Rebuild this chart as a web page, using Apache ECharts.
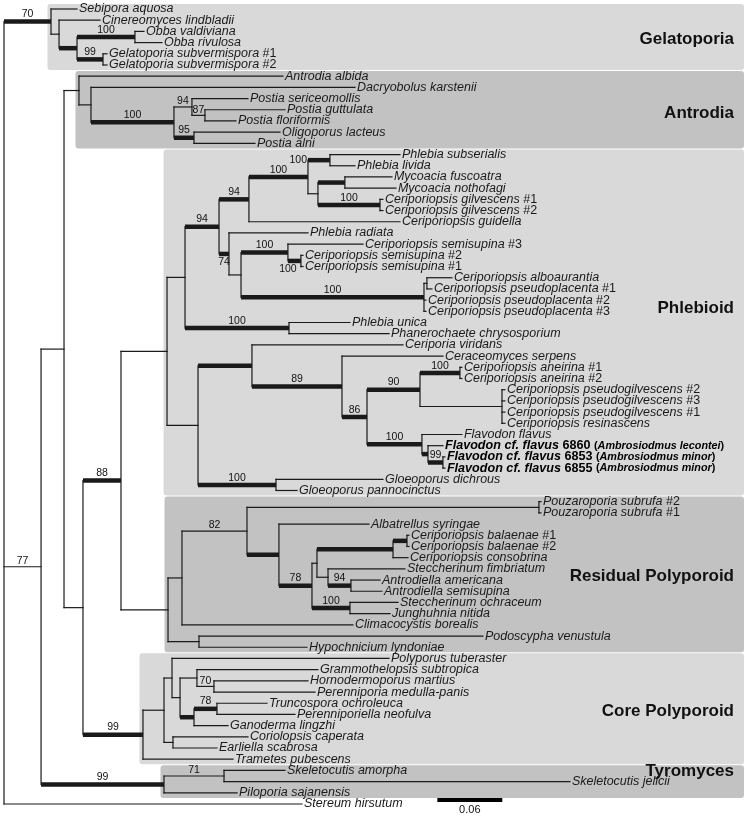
<!DOCTYPE html>
<html><head><meta charset="utf-8">
<script src="https://cdn.jsdelivr.net/npm/echarts@6/dist/echarts.min.js"></script>
<style>html,body{margin:0;padding:0;background:#fff}#c{width:745px;height:816px}</style>
</head><body><div id="c"></div>
<script>
// ---------- DATA ----------
// internal nodes: [id, parent, depth (subst./site from root), support, thick(1/0), support label placement]
const backboneNodes = [
  ['root', null, 0, null, 0, ''],
  ['n77', 'root', 0.0342, 77, 0, 'above'],
  ['upper', 'n77', 0.0554, null, 0, ''],
  ['n83', 'upper', 0.0729, null, 0, ''],
  ['n88', 'n83', 0.1080, 88, 1, 'above']
];
const gelatoporiaNodes = [
  ['gel', 'root', 0.0434, 70, 1, 'above'],
  ['gA', 'gel', 0.0508, null, 0, ''],
  ['gB', 'gA', 0.0674, null, 1, ''],
  ['obba', 'gB', 0.1209, 100, 1, 'above'],
  ['gsub', 'gB', 0.0914, 99, 1, 'above']
];
const antrodiaNodes = [
  ['ant', 'upper', 0.0692, null, 0, ''],
  ['ant2', 'ant', 0.0803, null, 0, ''],
  ['postia', 'ant2', 0.1569, 100, 1, 'above'],
  ['p94', 'postia', 0.1735, 94, 0, 'above'],
  ['p87', 'p94', 0.1855, 87, 0, 'above'],
  ['p95', 'postia', 0.1754, 95, 1, 'above']
];
const phlebioidNodes = [
  ['phleb', 'n88', 0.1505, null, 0, ''],
  ['A', 'phleb', 0.1671, null, 0, ''],
  ['B', 'A', 0.1985, 94, 1, 'above'],
  ['C', 'B', 0.2261, 94, 1, 'above'],
  ['F', 'C', 0.2806, 100, 1, 'above'],
  ['G', 'F', 0.3009, 100, 1, 'left'],
  ['H', 'F', 0.2898, null, 0, ''],
  ['I', 'H', 0.3147, null, 1, ''],
  ['J', 'H', 0.3471, 100, 1, 'above'],
  ['D', 'B', 0.2077, 74, 1, 'below'],
  ['E', 'D', 0.2188, null, 0, ''],
  ['sem', 'E', 0.2621, 100, 1, 'above'],
  ['sem2', 'sem', 0.2741, 100, 1, 'belowLeft'],
  ['albo', 'E', 0.3877, 100, 1, 'above'],
  ['albo1', 'albo', 0.3904, null, 0, ''],
  ['K', 'A', 0.2631, 100, 1, 'above'],
  ['L', 'phleb', 0.1791, null, 0, ''],
  ['M', 'L', 0.2289, null, 1, ''],
  ['O', 'M', 0.3120, 89, 1, 'above'],
  ['P', 'O', 0.3351, 86, 1, 'above'],
  ['Q', 'P', 0.3840, 90, 1, 'above'],
  ['S', 'Q', 0.4209, 100, 1, 'above'],
  ['T', 'Q', 0.4597, null, 0, ''],
  ['R', 'P', 0.3858, 100, 1, 'above'],
  ['U', 'R', 0.3914, null, 1, ''],
  ['V', 'U', 0.4052, 99, 1, 'above'],
  ['Nglo', 'L', 0.2511, 100, 1, 'above']
];
const residualNodes = [
  ['W', 'n88', 0.1514, null, 0, ''],
  ['X', 'W', 0.1643, null, 0, ''],
  ['Z', 'X', 0.2243, 82, 0, 'above'],
  ['pouz', 'Z', 0.4938, null, 0, ''],
  ['AA', 'Z', 0.2538, null, 1, ''],
  ['AB', 'AA', 0.2843, 78, 1, 'above'],
  ['AC', 'AB', 0.2889, null, 0, ''],
  ['AE', 'AC', 0.3591, null, 1, ''],
  ['AG', 'AE', 0.3720, null, 1, ''],
  ['AF', 'AC', 0.2991, null, 0, ''],
  ['AH', 'AF', 0.3203, 94, 1, 'above'],
  ['AD', 'AB', 0.3194, 100, 1, 'above'],
  ['Y', 'W', 0.1800, null, 0, '']
];
const coreNodes = [
  ['core', 'n83', 0.1283, 99, 1, 'above'],
  ['AI', 'core', 0.1477, null, 0, ''],
  ['AJ', 'AI', 0.1551, null, 0, ''],
  ['AL', 'AJ', 0.1625, null, 0, ''],
  ['AM', 'AL', 0.1781, null, 0, ''],
  ['AO', 'AM', 0.1938, 70, 0, 'above'],
  ['AN', 'AL', 0.1754, null, 1, ''],
  ['AP', 'AN', 0.1966, 78, 1, 'above'],
  ['AK', 'AI', 0.1560, null, 0, '']
];
const tyromycesNodes = [
  ['tyro', 'n77', 0.1477, 99, 1, 'above'],
  ['AR', 'tyro', 0.2031, 71, 0, 'above']
];

// leaves (top to bottom): [name, parent node, tip depth]
const gelatoporiaLeaves = [
  ['Sebipora aquosa', 'gel', 0.0674],
  ['Cinereomyces lindbladii', 'gA', 0.0886],
  ['Obba valdiviana', 'obba', 0.1292],
  ['Obba rivulosa', 'obba', 0.1458],
  ['Gelatoporia subvermispora #1', 'gsub', 0.0951],
  ['Gelatoporia subvermispora #2', 'gsub', 0.0951]
];
const antrodiaLeaves = [
  ['Antrodia albida', 'ant', 0.2575],
  ['Dacryobolus karstenii', 'ant2', 0.3240],
  ['Postia sericeomollis', 'p94', 0.2252],
  ['Postia guttulata', 'p87', 0.2594],
  ['Postia floriformis', 'p87', 0.2141],
  ['Oligoporus lacteus', 'p95', 0.2548],
  ['Postia alni', 'p95', 0.2317]
];
const phlebioidLeaves = [
  ['Phlebia subserialis', 'G', 0.3655],
  ['Phlebia livida', 'G', 0.3240],
  ['Mycoacia fuscoatra', 'I', 0.3581],
  ['Mycoacia nothofagi', 'I', 0.3618],
  ['Ceriporiopsis gilvescens #1', 'J', 0.3498],
  ['Ceriporiopsis gilvescens #2', 'J', 0.3498],
  ['Ceriporiopsis guidella', 'C', 0.3655],
  ['Phlebia radiata', 'D', 0.2806],
  ['Ceriporiopsis semisupina #3', 'sem', 0.3314],
  ['Ceriporiopsis semisupina #2', 'sem2', 0.2760],
  ['Ceriporiopsis semisupina #1', 'sem2', 0.2760],
  ['Ceriporiopsis alboaurantia', 'albo1', 0.4135],
  ['Ceriporiopsis pseudoplacenta #1', 'albo1', 0.3950],
  ['Ceriporiopsis pseudoplacenta #2', 'albo', 0.3895],
  ['Ceriporiopsis pseudoplacenta #3', 'albo', 0.3895],
  ['Phlebia unica', 'K', 0.3194],
  ['Phanerochaete chrysosporium', 'K', 0.3554],
  ['Ceriporia viridans', 'M', 0.3683],
  ['Ceraceomyces serpens', 'O', 0.4052],
  ['Ceriporiopsis aneirina #1', 'S', 0.4227],
  ['Ceriporiopsis aneirina #2', 'S', 0.4227],
  ['Ceriporiopsis pseudogilvescens #2', 'T', 0.4624],
  ['Ceriporiopsis pseudogilvescens #3', 'T', 0.4624],
  ['Ceriporiopsis pseudogilvescens #1', 'T', 0.4624],
  ['Ceriporiopsis resinascens', 'T', 0.4624],
  ['Flavodon flavus', 'R', 0.4227],
  ['Flavodon cf. flavus 6860 (Ambrosiodmus lecontei)', 'U', 0.4052],
  ['Flavodon cf. flavus 6853 (Ambrosiodmus minor)', 'V', 0.4070],
  ['Flavodon cf. flavus 6855 (Ambrosiodmus minor)', 'V', 0.4070],
  ['Gloeoporus dichrous', 'Nglo', 0.3498],
  ['Gloeoporus pannocinctus', 'Nglo', 0.2705]
];
const residualLeaves = [
  ['Pouzaroporia subrufa #2', 'pouz', 0.4957],
  ['Pouzaroporia subrufa #1', 'pouz', 0.4957],
  ['Albatrellus syringae', 'AA', 0.3369],
  ['Ceriporiopsis balaenae #1', 'AG', 0.3738],
  ['Ceriporiopsis balaenae #2', 'AG', 0.3738],
  ['Ceriporiopsis consobrina', 'AE', 0.3729],
  ['Steccherinum fimbriatum', 'AF', 0.3701],
  ['Antrodiella americana', 'AH', 0.3471],
  ['Antrodiella semisupina', 'AH', 0.3489],
  ['Steccherinum ochraceum', 'AD', 0.3637],
  ['Junghuhnia nitida', 'AD', 0.3563],
  ['Climacocystis borealis', 'X', 0.3221],
  ['Podoscypha venustula', 'Y', 0.4421],
  ['Hypochnicium lyndoniae', 'Y', 0.2797]
];
const coreLeaves = [
  ['Polyporus tuberaster', 'AJ', 0.3554],
  ['Grammothelopsis subtropica', 'AM', 0.2898],
  ['Hornodermoporus martius', 'AO', 0.2806],
  ['Perenniporia medulla-panis', 'AO', 0.2871],
  ['Truncospora ochroleuca', 'AP', 0.2428],
  ['Perenniporiella neofulva', 'AP', 0.2686],
  ['Ganoderma lingzhi', 'AN', 0.2068],
  ['Coriolopsis caperata', 'AK', 0.2252],
  ['Earliella scabrosa', 'AK', 0.1966],
  ['Trametes pubescens', 'core', 0.2114]
];
const tyromycesLeaves = [
  ['Skeletocutis amorpha', 'AR', 0.2594],
  ['Skeletocutis jelicii', 'AR', 0.5224],
  ['Piloporia sajanensis', 'tyro', 0.2151]
];
const outgroupLeaves = [
  ['Stereum hirsutum', 'root', 0.2751]
];

// clades highlighted with boxes
const cladeNames = ['Gelatoporia', 'Antrodia', 'Phlebioid', 'Residual Polyporoid', 'Core Polyporoid', 'Tyromyces'];
const cladeRoots = ['gel', 'ant', 'phleb', 'W', 'core', 'tyro'];
const cladeLabelRows = [2.7, 9.3, 26.7, 50.7, 62.7, 68.05];
const cladeShades = ['light', 'dark', 'light', 'dark', 'light', 'dark'];

// scale bar
const scaleBarStart = 0.40;
const scaleBarLength = 0.06;
const scaleBarLabel = '0.06';

// ---------- BUILD ----------
const FONT = '"Liberation Sans", Arial, Helvetica, sans-serif';
const INK = '#1a1a1a';
const SHADE = { light: '#d9d9d9', dark: '#c2c2c2' };
const X_MAX = 0.6831;
const ROW_MIN = -0.5, ROW_MAX = 71.5;

const allNodes = [].concat(backboneNodes, gelatoporiaNodes, antrodiaNodes, phlebioidNodes, residualNodes, coreNodes, tyromycesNodes);
const allLeaves = [].concat(gelatoporiaLeaves, antrodiaLeaves, phlebioidLeaves, residualLeaves, coreLeaves, tyromycesLeaves, outgroupLeaves);

const nodeMap = {};
allNodes.forEach(n => { nodeMap[n[0]] = { id: n[0], parent: n[1], depth: n[2], support: n[3], thick: n[4], pos: n[5], children: [] }; });
allLeaves.forEach((l, i) => { nodeMap['leaf' + i] = { id: 'leaf' + i, name: l[0], parent: l[1], depth: l[2], thick: 0, leaf: true, row: i, lo: i, hi: i, children: [] }; });
Object.values(nodeMap).forEach(n => { if (n.parent) nodeMap[n.parent].children.push(n); });

function layout(n) {
  if (n.leaf) return n.row;
  const rs = n.children.map(layout);
  n.row = (Math.min.apply(null, rs) + Math.max.apply(null, rs)) / 2;
  n.lo = Math.min.apply(null, n.children.map(c => c.lo));
  n.hi = Math.max.apply(null, n.children.map(c => c.hi));
  return n.row;
}
layout(nodeMap.root);

const thinSegs = [], thickSegs = [], supportLabels = [];
Object.values(nodeMap).forEach(n => {
  if (n.parent) {
    const p = nodeMap[n.parent];
    (n.thick ? thickSegs : thinSegs).push([p.depth, n.row, n.depth, n.row]);
    if (n.support != null) supportLabels.push({ x0: p.depth, x1: n.depth, row: n.row, text: String(n.support), pos: n.pos, thick: n.thick });
  }
  if (n.children.length) {
    const rs = n.children.map(c => c.row);
    thinSegs.push([n.depth, Math.min.apply(null, rs), n.depth, Math.max.apply(null, rs)]);
  }
});
const leafItems = allLeaves.map((l, i) => ({ x: l[2], row: i, name: l[0] }));
const boxItems = cladeRoots.map((id, i) => {
  const n = nodeMap[id];
  return { x: n.depth, lo: n.lo, hi: n.hi, shade: cladeShades[i], name: cladeNames[i], labelRow: cladeLabelRows[i] };
});

function leafRich(name) {
  const m = name.match(/^(Flavodon cf\. flavus) (\d+) \((.+)\)$/);
  if (m) return '{bi|' + m[1] + ' }{b|' + m[2] + ' }{bs|(}{bis|' + m[3] + '}{bs|)}';
  const h = name.match(/^(.*) (#\d+)$/);
  if (h) return '{i|' + h[1] + ' }{n|' + h[2] + '}';
  return '{i|' + name + '}';
}
const RICH = {
  i: { font: 'italic 12.5px ' + FONT, fill: INK },
  n: { font: '12.5px ' + FONT, fill: INK },
  bi: { font: 'italic bold 12.6px ' + FONT, fill: '#000' },
  b: { font: 'bold 12.6px ' + FONT, fill: '#000' },
  bs: { font: 'bold 10.8px ' + FONT, fill: '#000' },
  bis: { font: 'italic bold 10.8px ' + FONT, fill: '#000' }
};

function segSeries(data, width, cap, z) {
  return {
    type: 'custom', coordinateSystem: 'cartesian2d', z: z, silent: true, clip: false,
    data: data,
    renderItem: function (params, api) {
      const a = api.coord([api.value(0), api.value(1)]);
      const b = api.coord([api.value(2), api.value(3)]);
      return { type: 'line', shape: { x1: a[0], y1: a[1], x2: b[0], y2: b[1] }, style: { stroke: INK, lineWidth: width, lineCap: cap } };
    }
  };
}

const option = {
  animation: false,
  backgroundColor: '#ffffff',
  grid: { left: 4, top: 3.4, width: 740, height: 806.2 },
  xAxis: { type: 'value', min: 0, max: X_MAX, show: false },
  yAxis: { type: 'value', min: ROW_MIN, max: ROW_MAX, inverse: true, show: false },
  series: [
    { // clade boxes and clade names
      type: 'custom', coordinateSystem: 'cartesian2d', z: 0, silent: true, clip: false,
      data: boxItems.map((b, i) => [b.x, b.lo, i]),
      renderItem: function (params, api) {
        const b = boxItems[api.value(2)];
        const tl = api.coord([b.x, b.lo - 0.5]);
        const br = api.coord([X_MAX, b.hi + 0.5]);
        const left = tl[0] - 3.5;
        const lab = api.coord([X_MAX, b.labelRow]);
        return { type: 'group', children: [
          { type: 'rect', shape: { x: left, y: tl[1] + 0.5, width: br[0] - left, height: br[1] - tl[1] - 1, r: 3 }, style: { fill: SHADE[b.shade] } },
          { type: 'text', x: br[0] - 10, y: lab[1], style: { text: b.name, font: 'bold 17px ' + FONT, fill: '#111', align: 'right', verticalAlign: 'middle' } }
        ] };
      }
    },
    segSeries(thinSegs, 1.2, 'square', 2),
    segSeries(thickSegs, 4.5, 'butt', 3),
    { // leaf names
      type: 'custom', coordinateSystem: 'cartesian2d', z: 4, silent: true, clip: false,
      data: leafItems.map((l, i) => [l.x, l.row, i]),
      renderItem: function (params, api) {
        const l = leafItems[api.value(2)];
        const p = api.coord([l.x, l.row]);
        return { type: 'text', x: p[0] + 2, y: p[1], style: { text: leafRich(l.name), rich: RICH, align: 'left', verticalAlign: 'middle', font: 'italic 12.5px ' + FONT } };
      }
    },
    { // support values
      type: 'custom', coordinateSystem: 'cartesian2d', z: 4, silent: true, clip: false,
      data: supportLabels.map((s, i) => [(s.x0 + s.x1) / 2, s.row, i]),
      renderItem: function (params, api) {
        const s = supportLabels[api.value(2)];
        const a = api.coord([s.x0, s.row]);
        const b = api.coord([s.x1, s.row]);
        const half = s.thick ? 2.25 : 0.6;
        let x = (a[0] + b[0]) / 2, y = a[1] - half + 0.5, align = 'center', va = 'bottom';
        if (s.pos === 'below') { y = a[1] + half + 0.5; va = 'top'; }
        if (s.pos === 'left') { x = a[0] - 1; y = a[1]; align = 'right'; va = 'middle'; }
        if (s.pos === 'belowLeft') { x = a[0]; y = a[1] + half + 0.5; va = 'top'; }
        return { type: 'text', x: x, y: y, style: { text: s.text, font: '10.5px ' + FONT, fill: '#111', align: align, verticalAlign: va } };
      }
    },
    { // scale bar
      type: 'custom', coordinateSystem: 'cartesian2d', z: 4, silent: true, clip: false,
      data: [[scaleBarStart, 70.64, scaleBarStart + scaleBarLength]],
      renderItem: function (params, api) {
        const a = api.coord([api.value(0), api.value(1)]);
        const b = api.coord([api.value(2), api.value(1)]);
        return { type: 'group', children: [
          { type: 'line', shape: { x1: a[0], y1: a[1], x2: b[0], y2: b[1] }, style: { stroke: '#000', lineWidth: 4, lineCap: 'butt' } },
          { type: 'text', x: (a[0] + b[0]) / 2, y: a[1] + 4, style: { text: scaleBarLabel, font: '11px ' + FONT, fill: '#111', align: 'center', verticalAlign: 'top' } }
        ] };
      }
    }
  ]
};
const chart = echarts.init(document.getElementById('c'));
chart.setOption(option);
</script>
</body></html>
